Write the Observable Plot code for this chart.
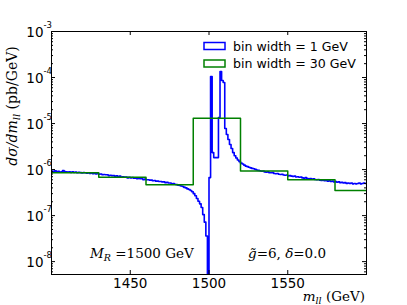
<!DOCTYPE html>
<html><head><meta charset="utf-8">
<script src="https://cdn.jsdelivr.net/npm/d3@7"></script>
<script src="https://cdn.jsdelivr.net/npm/@observablehq/plot@0.6"></script>
<style>body{margin:0;background:#fff} svg{display:block}</style>
</head><body><div id="chart"></div>
<script>
// 1 GeV bins, first bin starts at 1400 GeV
const blueStart = 1400;
const blueWidth = 1;
const blueValues = [
 9.3e-7,9.0e-7,9.4e-7,9.1e-7,9.2e-7,8.8e-7,9.0e-7,9.5e-7,9.1e-7,8.9e-7,
 8.8e-7,9.0e-7,8.7e-7,8.9e-7,8.7e-7,8.8e-7,8.5e-7,8.7e-7,8.6e-7,8.4e-7,
 8.6e-7,8.5e-7,8.3e-7,8.5e-7,8.2e-7,8.4e-7,8.1e-7,8.2e-7,8.0e-7,8.2e-7,
 7.9e-7,8.0e-7,7.7e-7,7.8e-7,7.7e-7,7.7e-7,7.4e-7,7.5e-7,7.4e-7,7.4e-7,
 7.2e-7,7.3e-7,7.0e-7,7.2e-7,6.9e-7,7.0e-7,6.9e-7,6.9e-7,6.6e-7,6.8e-7,
 6.6e-7,6.7e-7,6.5e-7,6.5e-7,6.3e-7,6.4e-7,6.3e-7,6.3e-7,6.0e-7,6.2e-7,
 6.0e-7,6.0e-7,5.9e-7,5.9e-7,5.7e-7,5.8e-7,5.6e-7,5.6e-7,5.5e-7,5.5e-7,
 5.4e-7,5.4e-7,5.2e-7,5.3e-7,5.1e-7,5.1e-7,4.9e-7,5.0e-7,4.8e-7,4.7e-7,
 4.6e-7,4.5e-7,4.4e-7,4.3e-7,4.1e-7,4.0e-7,3.8e-7,3.7e-7,3.5e-7,3.3e-7,
 3.0e-7,2.7e-7,2.35e-7,2.05e-7,1.8e-7,1.5e-7,1.05e-7,7.2e-8,3.6e-8,3.0e-9,
 6.7e-7,1.05e-4,2.34e-6,1.82e-6,1.82e-6,1.82e-6,1.35e-5,1.35e-4,8.6e-5,7.8e-5,
 7.8e-6,5.8e-6,4.5e-6,3.5e-6,2.86e-6,2.34e-6,2.0e-6,1.78e-6,1.61e-6,1.49e-6,
 1.38e-6,1.32e-6,1.25e-6,1.19e-6,1.16e-6,1.12e-6,1.09e-6,1.06e-6,1.04e-6,1.01e-6,
 9.8e-7,9.6e-7,9.4e-7,9.2e-7,9.3e-7,8.9e-7,8.8e-7,8.9e-7,8.5e-7,8.5e-7,
 8.6e-7,8.2e-7,8.1e-7,8.2e-7,7.9e-7,7.8e-7,7.9e-7,7.6e-7,7.5e-7,7.6e-7,
 7.3e-7,7.4e-7,7.2e-7,7.1e-7,7.2e-7,6.9e-7,7.0e-7,6.8e-7,6.9e-7,6.6e-7,
 6.5e-7,6.7e-7,6.4e-7,6.3e-7,6.4e-7,6.2e-7,6.3e-7,6.1e-7,6.0e-7,6.1e-7,
 5.9e-7,5.8e-7,5.9e-7,5.7e-7,5.8e-7,5.6e-7,5.7e-7,5.5e-7,5.6e-7,5.4e-7,
 5.5e-7,5.3e-7,5.4e-7,5.2e-7,5.3e-7,5.1e-7,5.2e-7,5.0e-7,5.1e-7,5.0e-7,
 5.1e-7,4.9e-7,5.0e-7,4.9e-7,5.0e-7,5.1e-7,4.9e-7,5.0e-7,5.1e-7,5.0e-7
];
// 30 GeV bins
const greenEdges = [1400,1430,1460,1490,1520,1550,1580,1610];
const greenValues = [8.5e-7,6.8e-7,4.7e-7,1.3e-5,9.3e-7,6.0e-7,3.5e-7];
const xTicks = [1450,1500,1550];
const yExponents = [-8,-7,-6,-5,-4,-3];
const legendLabels = ["bin width = 1 GeV","bin width = 30 GeV"];
const colors = ["#0000ff","#008000"];

const W = 407, H = 305, mL = 51, mR = 41, mT = 31, mB = 31;
const fw = W - mL - mR, fh = H - mT - mB;

const blueData = blueValues.map((v,i)=>({x: blueStart + i*blueWidth, y: v}));
blueData.push({x: blueStart + blueValues.length*blueWidth, y: blueValues[blueValues.length-1]});
const greenData = greenValues.map((v,i)=>({x: greenEdges[i], y: v}));
greenData.push({x: greenEdges[greenEdges.length-1], y: greenValues[greenValues.length-1]});

const majors = yExponents.map(e => Math.pow(10, e));
const minors = [];
for (const e of [-9, ...yExponents]) for (let k = 2; k <= 9; k++) {
  const v = k*Math.pow(10, e);
  if (v > 5.25e-9 && v < 1e-3) minors.push(v);
}

const chart = Plot.plot({
  width: W, height: H,
  marginLeft: mL, marginRight: mR, marginTop: mT, marginBottom: mB,
  style: {background: "#fff", fontFamily: "DejaVu Sans"},
  x: {domain: [1400, 1600]},
  y: {type: "log", domain: [5.25e-9, 1e-3], axis: null},
  marks: [
    Plot.line(blueData, {x: "x", y: "y", curve: "step-after", stroke: colors[0], strokeWidth: 1.6, clip: true}),
    Plot.line(greenData, {x: "x", y: "y", curve: "step-after", stroke: colors[1], strokeWidth: 1.5, clip: true}),
    Plot.tickY(majors, {y: d=>d, stroke: "#000", insetRight: fw - 4}),
    Plot.tickY(majors, {y: d=>d, stroke: "#000", insetLeft: fw - 4}),
    Plot.tickY(minors, {y: d=>d, stroke: "#000", insetRight: fw - 2}),
    Plot.tickY(minors, {y: d=>d, stroke: "#000", insetLeft: fw - 2}),
    Plot.tickX(xTicks, {x: d=>d, stroke: "#000", insetTop: fh - 4}),
    Plot.tickX(xTicks, {x: d=>d, stroke: "#000", insetBottom: fh - 4}),
    Plot.axisX(xTicks, {tickSize: 0, tickPadding: 4, fontSize: 13.5, fill: "#000", label: null, tickFormat: d=>String(d)}),
    Plot.text(majors, {y: d=>d, frameAnchor: "left", text: ()=>"10", textAnchor: "end", dx: -8, dy: 1, fontSize: 13.5, fill: "#000"}),
    Plot.text(majors, {y: d=>d, frameAnchor: "left", text: d=>"-" + Math.round(-Math.log10(d)), textAnchor: "start", dx: -8, dy: -6, fontSize: 8.5, fill: "#000"}),
    Plot.frame({stroke: "#000", strokeWidth: 1})
  ]
});
document.getElementById("chart").appendChild(chart);

const svg = d3.select(chart);
// legend
legendLabels.forEach((lab, i) => {
  const yc = 46 + i*17.5;
  svg.append("rect").attr("x", 204).attr("y", yc - 3.5).attr("width", 21).attr("height", 7)
    .attr("fill", "#fff").attr("stroke", colors[i]).attr("stroke-width", 1.5);
  svg.append("text").attr("x", 233).attr("y", yc + 4.5).attr("text-anchor", "start").attr("font-family", "DejaVu Sans")
    .attr("font-size", 12.6).attr("fill", "#000").text(lab);
});
// annotations
const serif = "DejaVu Serif";
const t1 = svg.append("text").attr("x", 90).attr("y", 258).attr("text-anchor", "start").attr("font-family", serif).attr("font-size", 13.5).attr("fill", "#000");
t1.append("tspan").attr("font-style", "italic").text("M");
t1.append("tspan").attr("font-style", "italic").attr("font-size", 9.5).attr("dy", 3).text("R");
t1.append("tspan").attr("dy", -3).text(" =1500 GeV");
const t2 = svg.append("text").attr("x", 248).attr("y", 258).attr("text-anchor", "start").attr("font-family", serif).attr("font-size", 13.5).attr("fill", "#000");
t2.append("tspan").attr("font-style", "italic").text("g\u0303");
t2.append("tspan").text("=6, ");
t2.append("tspan").attr("font-style", "italic").text("δ");
t2.append("tspan").text("=0.0");
// x label
const xl = svg.append("text").attr("x", 365).attr("y", 301).attr("text-anchor", "end").attr("font-family", serif).attr("font-size", 13.5).attr("fill", "#000");
xl.append("tspan").attr("font-style", "italic").text("m");
xl.append("tspan").attr("font-style", "italic").attr("font-size", 9.5).attr("dy", 3).text("ll");
xl.append("tspan").attr("dy", -3).text(" (GeV)");
// y label
const yl = svg.append("text").attr("transform", "translate(17,106) rotate(-90)").attr("text-anchor", "middle")
  .attr("font-family", serif).attr("font-size", 14).attr("fill", "#000");
yl.append("tspan").attr("font-style", "italic").text("dσ/dm");
yl.append("tspan").attr("font-style", "italic").attr("font-size", 10).attr("dy", 3).text("ll");
yl.append("tspan").attr("dy", -3).text(" (pb/GeV)");
</script>
</body></html>
